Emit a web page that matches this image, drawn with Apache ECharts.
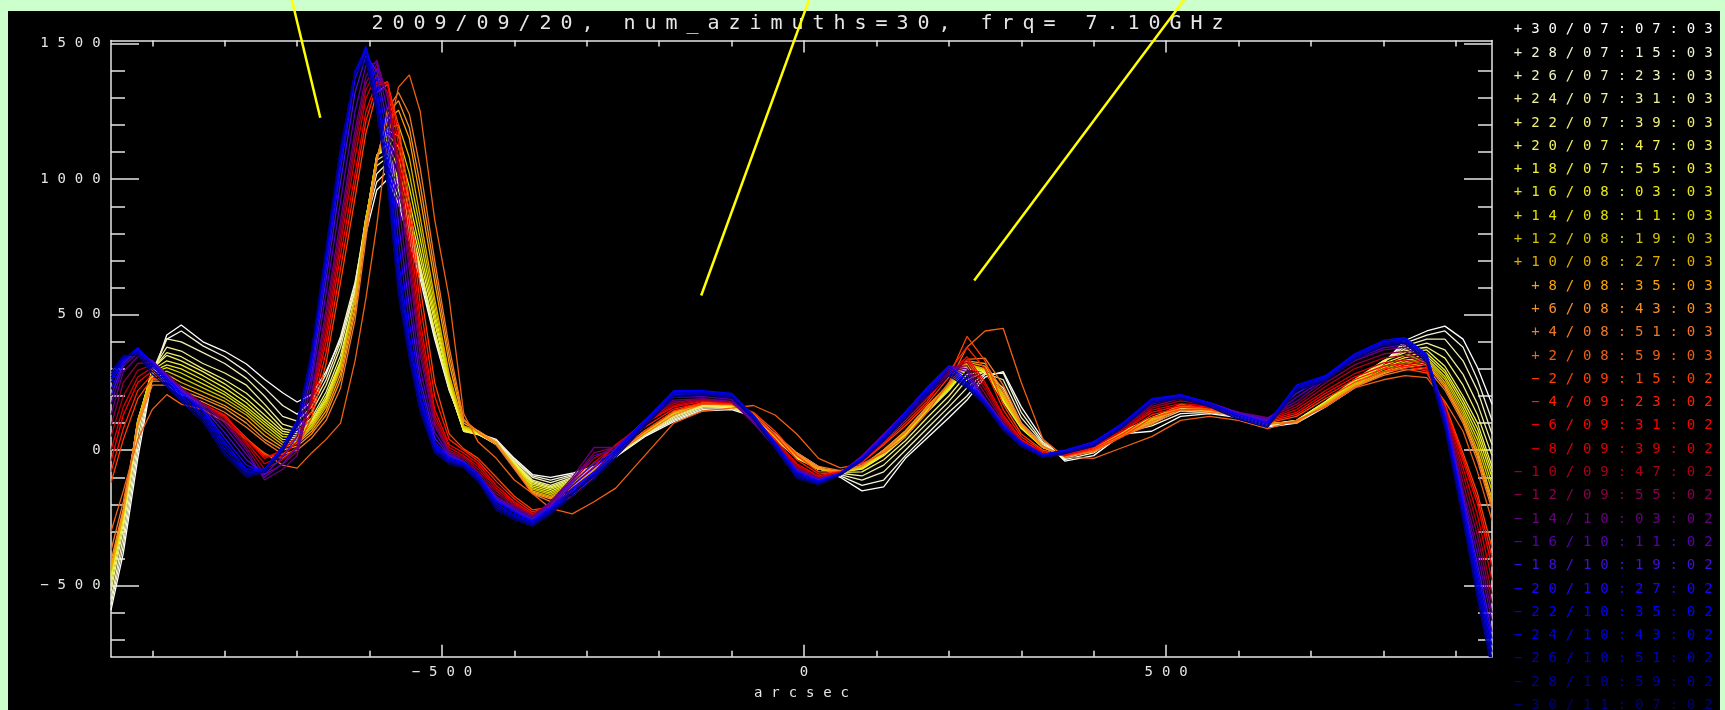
<!DOCTYPE html>
<html>
<head>
<meta charset="utf-8">
<title>2009/09/20 num_azimuths=30 7.10GHz</title>
<script src="https://cdn.jsdelivr.net/npm/echarts@6/dist/echarts.min.js"></script>
<style>
  html, body { margin: 0; padding: 0; background: #ccffcc; overflow: hidden; }
  #frame { position: absolute; left: 8px; top: 11px; width: 1712px; height: 699px; background: #000; }
  #chart { position: absolute; left: 0; top: 0; width: 1725px; height: 710px; }
</style>
</head>
<body>
<div id="frame"></div>
<div id="chart"></div>
<script>
// Scan positions (arcsec) shared by every azimuth profile
const arcsec = [
  -957,-940,-920,-900,-880,-860,-830,-800,-770,-745,
  -720,-700,-680,-660,-640,-620,-605,-590,-575,-560,
  -545,-530,-510,-490,-470,-450,-425,-400,-375,-350,
  -320,-290,-260,-220,-180,-140,-100,-70,-40,-10,
  20,50,80,110,140,170,200,225,250,275,
  300,330,360,400,440,480,520,560,600,640,
  680,720,760,800,830,860,885,910,930,950
];

// One profile per azimuth (relative index / start time)
const az_p30 = [-590,-380,-30,270,425,462,400,365,318,262, 212,178,205,290,410,590,800,960,1000,910, 770,630,410,220,85,62,40,-30,-90,-100, -85,-60,-25,50,105,145,150,125,60,-10, -60,-100,-150,-135,-30,45,120,185,270,290, 160,40,-40,-20,60,70,125,135,120,85, 100,160,230,320,405,440,458,410,305,170];
const az_p28 = [-570,-350,0,280,410,440,385,345,290,230, 165,133,180,280,420,620,840,990,1030,930, 790,650,420,225,80,60,35,-35,-95,-110, -90,-62,-22,55,110,150,155,128,55,-15, -62,-95,-130,-110,-20,60,140,200,280,285, 140,30,-35,-10,65,90,135,140,125,90, 105,165,240,325,395,425,440,380,260,110];
const az_p26 = [-550,-320,30,290,411,400,360,320,265,200, 125,107,160,260,400,610,860,1020,1060,960, 810,660,430,230,75,58,30,-40,-100,-120, -95,-65,-20,55,115,155,158,128,50,-20, -65,-90,-110,-80,0,80,160,230,285,260, 120,25,-30,0,65,100,145,140,125,92, 105,170,245,325,385,410,410,330,220,60];
const az_p24 = [-520,-290,60,295,380,366,320,285,240,170, 96,80,140,240,380,590,860,1050,1080,980, 830,670,435,230,72,58,25,-45,-110,-130, -100,-68,-20,58,120,160,160,125,45,-25, -68,-85,-95,-55,20,100,180,260,290,230, 100,20,-25,5,68,110,150,142,128,93, 108,175,250,328,375,395,370,280,170,20];
const az_p22 = [-500,-270,80,298,360,345,300,260,210,150, 80,68,120,215,350,570,850,1070,1095,990, 840,675,438,230,70,58,22,-48,-115,-135, -105,-70,-20,60,125,163,160,122,42,-28, -70,-82,-80,-35,35,120,200,280,290,205, 90,15,-22,8,70,115,155,143,128,94, 110,178,255,330,368,380,340,240,130,-20];
const az_p20 = [-480,-250,100,300,350,330,290,245,190,130, 70,60,110,200,330,560,850,1090,1110,1000, 850,680,440,230,70,60,20,-50,-120,-140, -110,-70,-20,60,130,165,160,120,40,-30, -70,-80,-70,-20,50,140,220,300,290,180, 80,10,-20,10,70,120,160,145,130,95, 110,180,260,330,360,370,310,200,100,-60];
const az_p18 = [-470,-245,105,295,330,315,275,230,175,115, 60,52,105,190,325,560,850,1085,1130,1040, 880,710,470,245,75,62,22,-52,-125,-145, -115,-70,-18,62,132,167,162,122,42,-27, -70,-80,-68,-15,55,145,225,305,292,185, 83,10,-20,7,68,118,162,147,132,96, 107,178,255,320,350,358,295,185,80,-80];
const az_p16 = [-460,-240,110,290,315,300,260,215,160,105, 50,45,100,185,320,560,850,1085,1150,1080, 920,740,490,255,78,64,24,-54,-132,-152, -118,-70,-16,64,134,170,165,125,44,-25, -70,-80,-66,-12,58,148,228,310,295,190, 85,10,-20,5,66,115,165,148,134,97, 105,176,252,312,342,348,285,170,60,-100];
const az_p14 = [-450,-238,112,285,305,285,245,205,150,95, 40,38,92,178,315,560,850,1082,1165,1120, 970,780,510,262,82,66,26,-56,-138,-158, -122,-70,-14,66,136,172,167,127,46,-23, -70,-80,-64,-8,62,152,232,313,297,192, 87,10,-20,3,64,113,167,149,136,98, 103,174,248,305,333,340,272,155,40,-125];
const az_p12 = [-445,-235,112,278,292,268,230,192,140,82, 30,33,86,170,308,560,850,1080,1180,1160, 1020,820,535,270,86,68,28,-58,-144,-164, -126,-70,-12,68,138,173,168,128,48,-21, -70,-80,-62,-4,66,156,236,316,298,195, 88,10,-20,2,62,112,168,150,138,99, 101,172,244,298,326,335,262,142,20,-150];
const az_p10 = [-440,-232,110,270,280,250,215,180,130,70, 20,30,80,160,300,560,850,1080,1190,1200, 1080,860,560,280,90,70,30,-60,-150,-170, -130,-70,-10,70,140,175,170,130,50,-20, -70,-80,-60,0,70,160,240,320,300,200, 90,10,-20,0,60,110,170,150,140,100, 100,170,240,290,320,330,250,130,0,-180];
const az_p8  = [-430,-228,105,262,265,235,200,165,115,55, 10,25,70,145,280,530,830,1080,1220,1255, 1150,930,620,320,100,72,30,-62,-155,-175, -135,-72,-10,72,142,176,171,130,52,-18, -68,-80,-58,2,72,162,243,325,310,210, 92,12,-20,-2,58,105,165,148,138,100, 102,168,236,285,312,322,240,118,-15,-195];
const az_p6  = [-410,-215,100,255,255,220,190,155,100,40, 0,15,60,130,260,510,810,1070,1240,1290, 1190,980,660,350,110,70,28,-65,-158,-180, -140,-75,-12,70,140,174,170,132,55,-15, -65,-78,-58,0,70,160,245,330,320,220, 95,14,-22,-4,55,100,160,146,136,98, 104,166,234,282,306,316,232,110,-25,-205];
const az_p4  = [-370,-190,90,240,240,205,178,140,85,30, -15,0,45,110,230,480,780,1060,1260,1320, 1240,1040,700,380,115,65,20,-70,-160,-190, -150,-80,-15,60,130,170,168,135,60,-10, -60,-75,-55,-5,65,155,245,335,340,240, 100,15,-24,-6,52,95,150,140,130,95, 106,164,233,276,296,304,222,100,-40,-220];
const az_p2  = [-300,-150,40,150,205,170,150,105,40,-10, -55,-66,-10,40,100,330,560,830,1150,1340, 1385,1250,850,560,135,30,-30,-110,-160,-215, -235,-190,-140,-20,100,145,155,165,130,60, -30,-65,-50,-10,50,140,250,380,440,450, 250,40,-25,-30,10,50,110,125,110,80, 110,160,230,260,275,268,180,70,-80,-260];
const az_m2  = [-120,40,190,265,255,212,165,125,45,-15, -30,10,120,320,620,930,1170,1320,1350,1200, 920,600,250,60,5,-30,-100,-170,-220,-210, -170,-100,-10,70,145,170,170,140,70,-20, -80,-80,-45,20,90,170,270,420,330,170, 60,0,-20,0,50,120,150,150,125,100, 125,190,250,290,300,285,170,-10,-160,-360];
const az_m4  = [-80,80,220,280,262,218,168,128,42,-22, -15,30,145,360,670,980,1215,1345,1360,1170, 870,540,200,40,0,-40,-115,-180,-228,-205, -150,-80,5,85,152,175,172,130,55,-35, -88,-80,-42,25,100,180,290,380,300,150, 50,-5,-20,5,60,130,158,155,130,105, 132,200,260,300,310,292,165,-25,-180,-395];
const az_m6  = [-40,130,250,292,275,225,170,130,40,-30, 0,50,170,400,720,1020,1250,1360,1350,1130, 820,480,150,20,-10,-50,-130,-190,-235,-200, -130,-60,20,100,160,180,175,120,40,-50, -95,-80,-40,30,110,190,280,345,250,130, 40,-10,-20,10,70,140,165,160,135,110, 140,210,270,310,320,300,160,-40,-200,-430];
const az_m8  = [0,160,270,305,278,228,170,122,30,-50, -20,30,180,430,760,1080,1300,1385,1320,1080, 770,440,130,10,-20,-60,-140,-196,-238,-198, -122,-45,18,103,165,183,177,115,32,-56, -98,-82,-35,38,118,198,288,335,238,122, 34,-12,-16,14,74,148,172,164,136,112, 150,220,282,322,333,310,158,-65,-240,-480];
const az_m10 = [50,200,295,315,280,230,170,116,22,-70, -35,10,190,460,790,1120,1330,1410,1310,1050, 730,410,115,0,-25,-70,-150,-200,-240,-195, -115,-30,15,106,172,186,178,110,25,-60, -100,-90,-30,45,125,210,295,325,225,115, 30,-15,-12,20,80,155,182,168,138,115, 160,235,300,340,350,318,155,-90,-280,-530];
const az_m12 = [90,250,320,325,282,230,170,108,10,-90, -52,-5,200,490,820,1150,1355,1425,1305,1025, 695,380,100,-5,-32,-80,-160,-205,-242,-192, -108,-10,12,108,178,188,179,105,18,-65, -102,-88,-25,52,132,220,302,312,208,108, 25,-18,-8,25,85,162,190,172,139,118, 170,248,315,355,365,324,152,-120,-315,-565];
const az_m14 = [130,290,345,330,280,230,170,100,0,-110, -70,-20,210,520,850,1180,1380,1440,1300,1000, 660,350,90,-10,-40,-90,-170,-210,-245,-190, -100,10,10,110,185,190,180,100,10,-70, -105,-85,-20,60,140,230,310,300,190,100, 20,-20,-5,30,90,170,200,175,140,120, 180,260,330,370,380,330,150,-150,-350,-600];
const az_m16 = [170,310,360,330,277,225,163,85,-15,-100, -50,10,250,580,920,1250,1420,1430,1250,920, 590,300,65,-15,-42,-90,-175,-215,-250,-198, -110,-20,3,110,195,198,188,108,16,-73, -108,-85,-23,57,140,230,310,290,180,95, 24,-18,-3,30,93,175,202,175,138,115, 195,265,337,378,390,338,140,-165,-385,-630];
const az_m18 = [200,320,368,326,273,220,157,65,-35,-90, -25,50,280,630,990,1320,1455,1400,1200,840, 530,260,45,-20,-44,-90,-180,-220,-255,-205, -120,-50,0,110,205,208,196,116,22,-76, -111,-85,-26,54,140,230,310,275,185,92, 27,-16,-2,30,96,180,203,175,135,110, 210,270,345,390,400,345,130,-180,-420,-670];
const az_m20 = [225,325,375,322,268,215,150,45,-55,-80, 0,80,310,670,1040,1370,1480,1370,1150,770, 470,230,30,-25,-45,-90,-185,-225,-260,-210, -130,-65,-2,110,215,215,205,124,27,-78, -113,-85,-28,52,140,230,310,262,182,91, 29,-15,-1,30,98,185,204,175,132,105, 225,272,350,398,408,350,125,-190,-445,-695];
const az_m22 = [250,330,378,320,265,210,145,30,-70,-70, 15,110,330,700,1070,1390,1490,1330,1100,700, 420,200,20,-30,-45,-90,-190,-230,-262,-215, -140,-80,0,110,220,220,210,130,30,-80, -115,-85,-30,50,140,230,310,250,180,90, 30,-15,0,30,100,190,205,175,130,100, 240,275,355,405,415,354,120,-200,-470,-720];
const az_m24 = [262,335,372,312,258,202,135,18,-78,-72, 10,105,340,720,1090,1400,1480,1310,1060,660, 395,185,12,-35,-50,-98,-198,-238,-268,-220, -148,-86,-6,104,214,216,206,126,24,-86, -118,-86,-32,46,134,222,300,245,176,86, 26,-18,-4,26,96,186,202,172,126,96, 236,270,350,400,410,348,110,-215,-490,-745];
const az_m26 = [270,340,365,300,250,195,125,5,-85,-75, 5,100,350,730,1100,1400,1465,1290,1030,630, 375,170,5,-40,-55,-104,-205,-244,-272,-225, -155,-92,-12,98,208,212,202,122,18,-92, -121,-88,-35,42,128,215,292,240,172,82, 22,-21,-7,22,92,182,198,168,122,92, 230,265,345,395,405,340,100,-230,-510,-770];
const az_m28 = [280,345,358,290,242,188,115,-8,-92,-78, 0,95,360,740,1110,1395,1450,1270,1000,600, 355,155,-2,-45,-60,-110,-212,-250,-276,-230, -162,-98,-18,92,202,208,198,118,12,-98, -124,-90,-38,38,122,208,284,235,168,78, 18,-24,-10,18,88,178,194,164,118,88, 225,260,340,390,400,332,90,-245,-530,-790];
const az_m30 = [290,350,350,280,235,180,105,-20,-100,-80, -5,90,370,750,1120,1390,1435,1250,970,570, 335,140,-10,-50,-65,-115,-220,-256,-280,-235, -170,-105,-25,86,196,204,194,114,6,-104, -127,-92,-40,34,116,200,276,230,164,74, 14,-27,-13,14,84,174,190,160,114,84, 220,255,335,385,395,325,80,-260,-550,-810];

const profiles = [
  az_p30, az_p28, az_p26, az_p24, az_p22, az_p20, az_p18, az_p16, az_p14, az_p12,
  az_p10, az_p8, az_p6, az_p4, az_p2, az_m2, az_m4, az_m6, az_m8, az_m10,
  az_m12, az_m14, az_m16, az_m18, az_m20, az_m22, az_m24, az_m26, az_m28, az_m30
];

const legendNames = [
  '+30/07:07:03', '+28/07:15:03', '+26/07:23:03', '+24/07:31:03', '+22/07:39:03',
  '+20/07:47:03', '+18/07:55:03', '+16/08:03:03', '+14/08:11:03', '+12/08:19:03',
  '+10/08:27:03', '+8/08:35:03', '+6/08:43:03', '+4/08:51:03', '+2/08:59:03',
  '\u22122/09:15:02', '\u22124/09:23:02', '\u22126/09:31:02', '\u22128/09:39:02', '\u221210/09:47:02',
  '\u221212/09:55:02', '\u221214/10:03:02', '\u221216/10:11:02', '\u221218/10:19:02', '\u221220/10:27:02',
  '\u221222/10:35:02', '\u221224/10:43:02', '\u221226/10:51:02', '\u221228/10:59:02', '\u221230/11:07:02'
];

const lineColors = [
  '#ffffff', '#f4f4d8', '#f0f0b8', '#f0f098', '#f0f078',
  '#f0f058', '#f0f038', '#e8e818', '#e0e000', '#d0c400',
  '#e0b000', '#ffa000', '#f89028', '#f07828', '#f06010',
  '#ff4000', '#ff2000', '#ff0000', '#d80000', '#a80018',
  '#880048', '#680080', '#5800b0', '#4010d8', '#2000ff',
  '#0000ff', '#0000e0', '#0000c0', '#0000a0', '#000080'
];

const titleText = '2009/09/20, num_azimuths=30, frq= 7.10GHz';
const xMajor = [-500, 0, 500];
const xMinor = [-900, -800, -700, -600, -400, -300, -200, -100, 100, 200, 300, 400, 600, 700, 800, 900];
const yMajor = [-500, 0, 500, 1000, 1500];
const yMinor = [-700, -600, -400, -300, -200, -100, 100, 200, 300, 400, 600, 700, 800, 900, 1100, 1200, 1300, 1400];

// Pointer segments (arcsec, value): from above the frame down into the plot
const pointers = [
  [[-708, 1670], [-668, 1227]],
  [[8, 1670], [-142, 571]],
  [[527, 1670], [235, 626]]
];

const FONT = 'DejaVu Sans Mono';
const INK = '#e6e6e6';

// Each character sits in its own fixed-width cell, giving the wide plotter lettering
function cells(text, key) {
  return Array.from(String(text)).map(function (ch) {
    return '{' + key + '|' + (ch === ' ' ? '\u00a0' : ch) + '}';
  }).join('');
}
function tickText(v) {
  return v < 0 ? '\u2212' + Math.abs(v) : String(v);
}

const tickRich = { t: { fontFamily: FONT, fontSize: 14, fontWeight: 'normal', width: 17.3, align: 'center', lineHeight: 14, color: INK } };
const axisLineStyle = { color: INK, width: 1.5 };

function xAxisPart(position, majorTicks, labels) {
  return {
    type: 'value', min: -957, max: 950, position: position,
    axisLine: { show: majorTicks, onZero: false, lineStyle: axisLineStyle },
    axisTick: majorTicks
      ? { show: true, inside: true, length: 12, customValues: xMajor, lineStyle: axisLineStyle }
      : { show: true, inside: true, length: 6, customValues: xMinor, lineStyle: axisLineStyle },
    axisLabel: labels
      ? { show: true, margin: 9, customValues: xMajor, formatter: function (v) { return cells(tickText(v), 't'); }, rich: tickRich }
      : { show: false },
    splitLine: { show: false },
    minorTick: { show: false }
  };
}
function yAxisPart(position, majorTicks, labels) {
  return {
    type: 'value', min: -762, max: 1512, position: position,
    axisLine: { show: majorTicks, onZero: false, lineStyle: axisLineStyle },
    axisTick: majorTicks
      ? { show: true, inside: true, length: 28, customValues: yMajor, lineStyle: axisLineStyle }
      : { show: true, inside: true, length: 14, customValues: yMinor, lineStyle: axisLineStyle },
    axisLabel: labels
      ? { show: true, margin: 6, customValues: yMajor, formatter: function (v) { return cells(tickText(v), 't'); }, rich: tickRich }
      : { show: false },
    splitLine: { show: false },
    minorTick: { show: false }
  };
}

const xBottom = xAxisPart('bottom', true, true);
xBottom.name = cells('arcsec', 't');
xBottom.nameLocation = 'middle';
xBottom.nameGap = 30;
xBottom.nameTextStyle = { color: INK, fontWeight: 'normal', rich: tickRich };

const chart = echarts.init(document.getElementById('chart'), null, { renderer: 'canvas' });

const option = {
  backgroundColor: 'transparent',
  animation: false,
  title: {
    text: cells(titleText, 'h'),
    left: 367, top: 14, padding: 0,
    textStyle: {
      color: INK, fontWeight: 'normal', fontFamily: FONT,
      rich: { h: { fontFamily: FONT, fontSize: 20, fontWeight: 'normal', width: 21, align: 'center', lineHeight: 20, color: INK } }
    }
  },
  legend: {
    data: legendNames.map(function (n, i) { return { name: n, textStyle: { color: lineColors[i] } }; }),
    orient: 'vertical', right: 8, top: 22.7, height: 2000, padding: 0,
    itemGap: 9.3, itemWidth: 0, itemHeight: 14, icon: 'rect',
    selectedMode: false,
    formatter: function (n) { return cells(n.padStart(12, ' '), 'g'); },
    textStyle: {
      fontFamily: FONT, fontSize: 14,
      rich: { g: { fontFamily: FONT, fontSize: 14, fontWeight: 'normal', width: 17.3, align: 'center', lineHeight: 14 } }
    }
  },
  grid: { left: 111, right: 233, top: 40.5, bottom: 53.3, containLabel: false, outerBoundsMode: 'none', show: false },
  xAxis: [
    xBottom,
    xAxisPart('bottom', false, false),
    xAxisPart('top', true, false),
    xAxisPart('top', false, false)
  ],
  yAxis: [
    yAxisPart('left', true, true),
    yAxisPart('left', false, false),
    yAxisPart('right', true, false),
    yAxisPart('right', false, false)
  ],
  series: profiles.map(function (vals, i) {
    return {
      type: 'line',
      name: legendNames[i],
      xAxisIndex: 0, yAxisIndex: 0,
      data: arcsec.map(function (x, j) { return [x, vals[j]]; }),
      showSymbol: false, symbol: 'none',
      lineStyle: { width: 1.3, color: lineColors[i] },
      itemStyle: { color: lineColors[i] },
      silent: true
    };
  })
};

chart.setOption(option);

// Pointer lines placed through the data coordinate system
const pointerEls = pointers.map(function (seg, i) {
  const a = chart.convertToPixel({ seriesIndex: 0 }, seg[0]);
  const b = chart.convertToPixel({ seriesIndex: 0 }, seg[1]);
  return {
    type: 'line', id: 'pointer' + i, silent: true, z: 100,
    shape: { x1: a[0], y1: a[1], x2: b[0], y2: b[1] },
    style: { stroke: '#ffff00', lineWidth: 2.5 }
  };
});
chart.setOption({ graphic: { elements: pointerEls } });
</script>
</body>
</html>
